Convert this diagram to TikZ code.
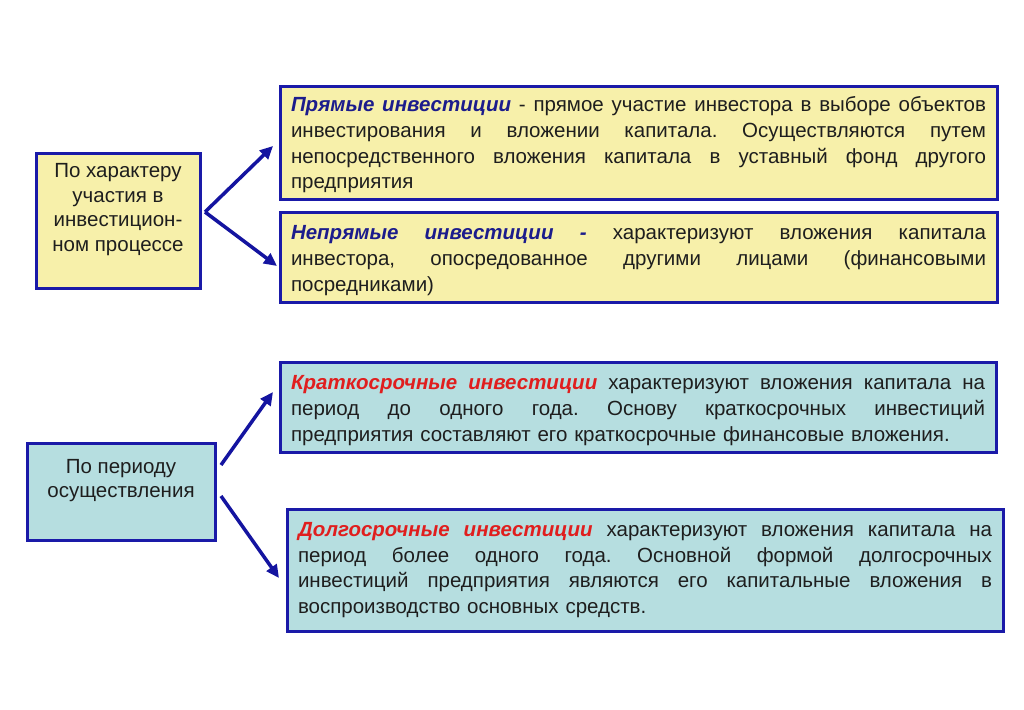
\documentclass[tikz,border=0pt]{standalone}
\usepackage{fontspec}
\setmainfont{Liberation Sans}
\usetikzlibrary{arrows.meta}
\definecolor{bordblue}{HTML}{1A1AA8}
\definecolor{arrblue}{HTML}{1414A0}
\definecolor{yelfill}{HTML}{F7F0AA}
\definecolor{bluefill}{HTML}{B6DEE0}
\definecolor{titblue}{HTML}{1C1C8C}
\definecolor{titred}{HTML}{E01E1E}
\definecolor{txt}{HTML}{1E1E1E}
\frenchspacing
\newcommand\jl[1]{\leavevmode\hbox to \hsize{\spaceskip=0.278em plus 1fil\relax #1}\\}
\newcommand\tblue[1]{\textcolor{titblue}{\bfseries\itshape #1}}
\newcommand\tred[1]{\textcolor{titred}{\bfseries\itshape #1}}
\begin{document}
\begin{tikzpicture}[x=1pt,y=-1pt,
  box/.style={draw=bordblue,line width=3pt,anchor=north west,outer sep=0pt,text=txt},
  textbox/.style={box,inner xsep=11pt,inner ysep=0pt,text width=#1,align=left,font=\fontsize{20.5}{25.7}\selectfont},
  labelbox/.style={box,inner sep=0pt,align=center,font=\fontsize{20.5}{24.5}\selectfont},
  arr/.style={draw=arrblue,line width=3.5pt,-{Triangle[length=13pt,width=12pt]}},
]
\useasboundingbox (0,0) rectangle (1024,709);
\fill[white] (0,0) rectangle (1024,709);
% left boxes
\node[labelbox,fill=yelfill,minimum width=164pt,minimum height=135pt] (A) at (36,153)
  {По характеру\\участия в\\инвестицион-\\ном процессе\\[2pt]};
\node[labelbox,fill=bluefill,minimum width=188pt,minimum height=97pt] (D) at (27,443)
  {По периоду\\осуществления\\[2pt]};
% right boxes
\node[textbox=695pt,fill=yelfill,minimum height=113pt] (B) at (280,86)
  {\jl{\rule{0pt}{20pt}\tblue{Прямые инвестиции} - прямое участие инвестора в выборе объектов}
   \jl{инвестирования и вложении капитала. Осуществляются путем}
   \jl{непосредственного вложения капитала в уставный фонд другого}
   предприятия};
\node[textbox=695pt,fill=yelfill,minimum height=90pt] (C) at (280,212)
  {\jl{\rule{0pt}{21pt}\tblue{Непрямые инвестиции -} характеризуют вложения капитала}
   \jl{инвестора, опосредованное другими лицами (финансовыми}
   посредниками)};
\node[textbox=694pt,fill=bluefill,minimum height=90pt] (E) at (280,362)
  {\jl{\rule{0pt}{21pt}\tred{Краткосрочные инвестиции} характеризуют вложения капитала на}
   \jl{период до одного года. Основу краткосрочных инвестиций}
   предприятия составляют его краткосрочные финансовые вложения.};
\node[textbox=694pt,fill=bluefill,minimum height=122pt] (F) at (287,509)
  {\jl{\tred{Долгосрочные инвестиции} характеризуют вложения капитала на}
   \jl{период более одного года. Основной формой долгосрочных}
   \jl{инвестиций предприятия являются его капитальные вложения в}
   воспроизводство основных средств.};
% connectors
\coordinate (a1) at (205,212);
\coordinate (b1) at (273,146);
\coordinate (c1) at (277,266);
\coordinate (d1) at (221,465);
\coordinate (d2) at (221,496);
\coordinate (e1) at (273,392);
\coordinate (f1) at (279,578);
\draw[arr] (a1) -- (b1);
\draw[arr] (a1) -- (c1);
\draw[arr] (d1) -- (e1);
\draw[arr] (d2) -- (f1);
\end{tikzpicture}
\end{document}
